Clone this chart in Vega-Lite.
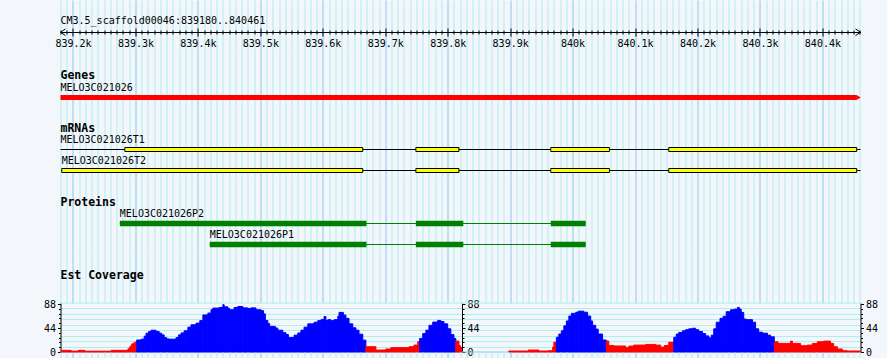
{
"$schema": "https://vega.github.io/schema/vega-lite/v6.json",
"background": "#F3F6FA",
"padding": {"left": 42.5, "top": 0, "right": 8, "bottom": 0},
"spacing": 0,
"bounds": "flush",
"config": {"view": {"stroke": null}, "font": "DejaVu Sans Mono",
  "axis": {"labelFont": "DejaVu Sans Mono", "labelFontSize": 10, "labelColor": "#000000", "tickColor": "#000000", "domainColor": "#000000"}},
"resolve": {"scale": {"x": "independent", "y": "independent"}},
"vconcat": [
{
 "width": 800, "height": 48,
 "layer": [
  {"data": {"values": [{"row": 0, "start": 839180, "label": "CM3.5_scaffold00046:839180..840461"}]},
   "mark": {"type": "text", "align": "left", "baseline": "middle", "font": "DejaVu Sans Mono", "fontSize": 10, "color": "#000000"},
   "encoding": {
    "x": {"field": "start", "type": "quantitative", "scale": {"domain": [839180, 840461], "nice": false, "zero": false, "padding": 0},
      "axis": {"orient": "bottom", "offset": -16, "tickCount": 128, "grid": true,
        "gridColor": {"condition": {"test": "datum.value % 100 === 0", "value": "#88C8EE"}, "value": "#AEEEEE"}, "gridOpacity": 1, "gridWidth": 1,
        "ticks": true, "tickColor": "#000000", "tickWidth": 1,
        "tickSize": {"condition": {"test": "datum.value % 100 === 0", "value": 4}, "value": 2},
        "domain": false, "labels": true,
        "labelExpr": "datum.value % 100 === 0 ? (datum.value / 1000) + 'k' : ''",
        "labelPadding": 2, "labelOverlap": false, "labelFlush": false, "labelBound": false, "title": null}},
    "y": {"field": "row", "type": "quantitative", "scale": {"domain": [-1, 1.2326], "reverse": true, "nice": false, "zero": false, "padding": 0}, "axis": null},
    "text": {"field": "label"}}},
  {"data": {"values": [{"row": 0.5, "start": 839180, "dir": "left"}, {"row": 0.5, "start": 840461, "dir": "right"}]},
   "mark": {"type": "point", "filled": false, "size": 44, "strokeWidth": 1, "opacity": 1, "color": "#000000"},
   "encoding": {
    "x": {"field": "start", "type": "quantitative", "scale": {"domain": [839180, 840461], "nice": false, "zero": false, "padding": 0},
      "axis": {"orient": "bottom", "offset": -16, "tickCount": 128, "grid": false, "ticks": true, "tickColor": "#000000", "tickWidth": 1,
        "tickSize": {"condition": {"test": "datum.value % 100 === 0", "value": -4}, "value": -2},
        "domain": true, "domainColor": "#000000", "labels": false, "title": null}},
    "y": {"field": "row", "type": "quantitative", "scale": {"domain": [-1, 1.2326], "reverse": true, "nice": false, "zero": false, "padding": 0}, "axis": null},
    "shape": {"field": "dir", "type": "nominal", "scale": {"domain": ["left", "right"], "range": ["M 1.5 -1 L 0 0 L 1.5 1", "M -1.5 -1 L 0 0 L -1.5 1"]}, "legend": null}}}
 ],
 "resolve": {"axis": {"x": "independent"}}
},
{
 "width": 800, "height": 56,
 "encoding": {
  "x": {"field": "start", "type": "quantitative", "scale": {"domain": [839180, 840461], "nice": false, "zero": false, "padding": 0},
    "axis": {"orient": "bottom", "tickCount": 128, "grid": true, "gridColor": {"condition": {"test": "datum.value % 100 === 0", "value": "#88C8EE"}, "value": "#AEEEEE"}, "gridOpacity": 1, "gridWidth": 1, "ticks": false, "labels": false, "domain": false, "title": null}},
  "y": {"field": "row", "type": "quantitative", "scale": {"domain": [-1.302, 1.302], "reverse": true, "nice": false, "zero": false, "padding": 0}, "axis": null}
 },
 "layer": [
  {"data": {"values": [{"row": 0, "start": 839180, "label": "Genes"}]},
   "mark": {"type": "text", "align": "left", "baseline": "middle", "font": "DejaVu Sans Mono", "fontWeight": "bold", "fontSize": 11.5, "color": "#000000"},
   "encoding": {"text": {"field": "label"}}},
  {"data": {"values": [{"name": "MELO3C021026", "row": 1, "start": 839180, "end": 840455}]},
   "mark": {"type": "bar", "orient": "horizontal", "height": 5, "color": "#FF0000"},
   "encoding": {"x2": {"field": "end"}}},
  {"data": {"values": [{"name": "MELO3C021026", "row": 1, "start": 839180, "end": 840455}]},
   "mark": {"type": "text", "align": "left", "baseline": "middle", "dy": -9.5, "font": "DejaVu Sans Mono", "fontSize": 10, "color": "#000000"},
   "encoding": {"text": {"field": "name"}}},
  {"data": {"values": [{"row": 1, "start": 840458}]},
   "mark": {"type": "point", "shape": "triangle-right", "size": 25, "filled": true, "opacity": 1, "color": "#FF0000"}}
 ]
},
{
 "width": 800, "height": 72,
 "encoding": {
  "x": {"field": "start", "type": "quantitative", "scale": {"domain": [839180, 840461], "nice": false, "zero": false, "padding": 0},
    "axis": {"orient": "bottom", "tickCount": 128, "grid": true, "gridColor": {"condition": {"test": "datum.value % 100 === 0", "value": "#88C8EE"}, "value": "#AEEEEE"}, "gridOpacity": 1, "gridWidth": 1, "ticks": false, "labels": false, "domain": false, "title": null}},
  "y": {"field": "row", "type": "quantitative", "scale": {"domain": [-1.1667, 2.2619], "reverse": true, "nice": false, "zero": false, "padding": 0}, "axis": null}
 },
 "layer": [
  {"data": {"values": [{"row": 0, "start": 839180, "label": "mRNAs"}]},
   "mark": {"type": "text", "align": "left", "baseline": "middle", "font": "DejaVu Sans Mono", "fontWeight": "bold", "fontSize": 11.5, "color": "#000000"},
   "encoding": {"text": {"field": "label"}}},
  {"data": {"values": [
     {"name": "MELO3C021026T1", "row": 1, "start": 839180, "end": 840461},
     {"name": "MELO3C021026T2", "row": 2, "start": 839182, "end": 840461}]},
   "mark": {"type": "rule", "color": "#000000", "strokeWidth": 1},
   "encoding": {"x2": {"field": "end"}}},
  {"data": {"values": [
     {"name": "MELO3C021026T1", "row": 1, "start": 839180, "end": 840461},
     {"name": "MELO3C021026T2", "row": 2, "start": 839182, "end": 840461}]},
   "mark": {"type": "text", "align": "left", "baseline": "middle", "dy": -9.5, "font": "DejaVu Sans Mono", "fontSize": 10, "color": "#000000"},
   "encoding": {"text": {"field": "name"}}},
  {"data": {"values": [
     {"row": 1, "start": 839283, "end": 839664},
     {"row": 1, "start": 839749, "end": 839818},
     {"row": 1, "start": 839965, "end": 840059},
     {"row": 1, "start": 840154, "end": 840455},
     {"row": 2, "start": 839182, "end": 839664},
     {"row": 2, "start": 839749, "end": 839818},
     {"row": 2, "start": 839965, "end": 840059},
     {"row": 2, "start": 840154, "end": 840455}]},
   "mark": {"type": "bar", "orient": "horizontal", "height": 4, "fill": "#FFFF00", "stroke": "#000000", "strokeWidth": 1},
   "encoding": {"x2": {"field": "end"}}}
 ]
},
{
 "width": 800, "height": 76,
 "encoding": {
  "x": {"field": "start", "type": "quantitative", "scale": {"domain": [839180, 840461], "nice": false, "zero": false, "padding": 0},
    "axis": {"orient": "bottom", "tickCount": 128, "grid": true, "gridColor": {"condition": {"test": "datum.value % 100 === 0", "value": "#88C8EE"}, "value": "#AEEEEE"}, "gridOpacity": 1, "gridWidth": 1, "ticks": false, "labels": false, "domain": false, "title": null}},
  "y": {"field": "row", "type": "quantitative", "scale": {"domain": [-1.2619, 2.3571], "reverse": true, "nice": false, "zero": false, "padding": 0}, "axis": null}
 },
 "layer": [
  {"data": {"values": [{"row": 0, "start": 839180, "label": "Proteins"}]},
   "mark": {"type": "text", "align": "left", "baseline": "middle", "font": "DejaVu Sans Mono", "fontWeight": "bold", "fontSize": 11.5, "color": "#000000"},
   "encoding": {"text": {"field": "label"}}},
  {"data": {"values": [
     {"name": "MELO3C021026P2", "row": 1, "start": 839275, "end": 840021},
     {"name": "MELO3C021026P1", "row": 2, "start": 839419, "end": 840021}]},
   "mark": {"type": "rule", "color": "#008000", "strokeWidth": 1},
   "encoding": {"x2": {"field": "end"}}},
  {"data": {"values": [
     {"name": "MELO3C021026P2", "row": 1, "start": 839275, "end": 840021},
     {"name": "MELO3C021026P1", "row": 2, "start": 839419, "end": 840021}]},
   "mark": {"type": "text", "align": "left", "baseline": "middle", "dy": -9.5, "font": "DejaVu Sans Mono", "fontSize": 10, "color": "#000000"},
   "encoding": {"text": {"field": "name"}}},
  {"data": {"values": [
     {"row": 1, "start": 839275, "end": 839670},
     {"row": 1, "start": 839749, "end": 839825},
     {"row": 1, "start": 839965, "end": 840021},
     {"row": 2, "start": 839419, "end": 839670},
     {"row": 2, "start": 839749, "end": 839825},
     {"row": 2, "start": 839965, "end": 840021}]},
   "mark": {"type": "bar", "orient": "horizontal", "height": 5.5, "color": "#008000"},
   "encoding": {"x2": {"field": "end"}}}
 ]
},
{
 "width": 800, "height": 51,
 "layer": [
  {"data": {"values": [{"row": 0, "start": 839180, "label": "Est Coverage"}]},
   "mark": {"type": "text", "align": "left", "baseline": "middle", "font": "DejaVu Sans Mono", "fontWeight": "bold", "fontSize": 11.5, "color": "#000000"},
   "encoding": {
    "x": {"field": "start", "type": "quantitative", "scale": {"domain": [839180, 840461], "nice": false, "zero": false, "padding": 0},
      "axis": {"orient": "bottom", "tickCount": 128, "grid": true, "gridColor": {"condition": {"test": "datum.value % 100 === 0", "value": "#88C8EE"}, "value": "#AEEEEE"}, "gridOpacity": 1, "gridWidth": 1, "ticks": false, "labels": false, "domain": false, "title": null}},
    "y": {"field": "row", "type": "quantitative", "scale": {"domain": [-1.116, 1.256], "reverse": true, "nice": false, "zero": false, "padding": 0}, "axis": null},
    "text": {"field": "label"}}}
 ]
},
{
 "width": 800, "height": 49,
 "layer": [
  {"data": {"values": [{"g": 0}]},
   "mark": {"type": "rule", "color": "#88C8EE", "strokeWidth": 1},
   "encoding": {"y": {"field": "g", "type": "quantitative", "scale": {"domain": [0, 90], "nice": false, "zero": true, "padding": 0},
     "axis": {"orient": "right", "values": [0, 8.8, 17.6, 26.4, 35.2, 44, 52.8, 61.6, 70.4, 79.2, 88],
       "tickSize": {"condition": {"test": "datum.value % 44 === 0", "value": 3}, "value": 2}, "tickColor": "#000000",
       "domain": true, "domainColor": "#000000", "labelExpr": "datum.value % 44 === 0 ? datum.label : ''",
       "labelPadding": 2, "labelOverlap": false, "labelBound": false, "labelFlush": false, "grid": false, "title": null}}}},
  {"data": {"values": [{"g": 90}]},
   "mark": {"type": "rule", "color": "#AEEEEE", "strokeWidth": 1},
   "encoding": {"y": {"field": "g", "type": "quantitative", "scale": {"domain": [0, 90], "nice": false, "zero": true, "padding": 0},
     "axis": {"orient": "left", "values": [10, 20, 30, 40, 50, 60, 70, 80], "grid": true, "gridColor": "#AEEEEE", "gridOpacity": 1, "ticks": false, "labels": false, "domain": false, "title": null}}}},
  {"data": {"values": [
{"s":839181,"e":839197,"v":3},{"s":839197,"e":839208,"v":1.5},{"s":839208,"e":839219,"v":3},{"s":839219,"e":839261,"v":1.5},
{"s":839261,"e":839288,"v":3},{"s":839288,"e":839291,"v":6},{"s":839291,"e":839294,"v":10.5},{"s":839294,"e":839298,"v":15},
{"s":839298,"e":839302,"v":18},{"s":839302,"e":839309,"v":22},{"s":839309,"e":839314,"v":23.6},{"s":839314,"e":839317,"v":29},
{"s":839317,"e":839321,"v":34.5},{"s":839321,"e":839325,"v":37.6},{"s":839325,"e":839333,"v":40},{"s":839333,"e":839338,"v":37.6},
{"s":839338,"e":839342,"v":34.5},{"s":839342,"e":839346,"v":31.4},{"s":839346,"e":839350,"v":26.5},{"s":839350,"e":839354,"v":24},
{"s":839354,"e":839365,"v":23.6},{"s":839365,"e":839369,"v":26.5},{"s":839369,"e":839373,"v":31.4},{"s":839373,"e":839378,"v":35},
{"s":839378,"e":839384,"v":39},{"s":839384,"e":839389,"v":45.6},{"s":839389,"e":839397,"v":50},{"s":839397,"e":839403,"v":53},
{"s":839403,"e":839408,"v":57.6},{"s":839408,"e":839416,"v":68},{"s":839416,"e":839421,"v":71.5},{"s":839421,"e":839424,"v":77.6},
{"s":839424,"e":839434,"v":80.6},{"s":839434,"e":839440,"v":81.8},{"s":839440,"e":839442,"v":87},{"s":839442,"e":839448,"v":83},
{"s":839448,"e":839451,"v":80},{"s":839451,"e":839458,"v":77.6},{"s":839458,"e":839464,"v":81.8},{"s":839464,"e":839472,"v":83.6},
{"s":839472,"e":839480,"v":81},{"s":839480,"e":839485,"v":80},{"s":839485,"e":839493,"v":81},{"s":839493,"e":839501,"v":77.6},
{"s":839501,"e":839505,"v":76},{"s":839505,"e":839508,"v":70},{"s":839508,"e":839512,"v":58},{"s":839512,"e":839515,"v":52},
{"s":839515,"e":839524,"v":47},{"s":839524,"e":839528,"v":44},{"s":839528,"e":839536,"v":40},{"s":839536,"e":839541,"v":35.5},
{"s":839541,"e":839545,"v":32},{"s":839545,"e":839554,"v":26.6},{"s":839554,"e":839560,"v":30.9},{"s":839560,"e":839565,"v":35},
{"s":839565,"e":839570,"v":40},{"s":839570,"e":839576,"v":45.6},{"s":839576,"e":839586,"v":51.7},{"s":839586,"e":839592,"v":54.7},
{"s":839592,"e":839597,"v":57.6},{"s":839597,"e":839602,"v":59.4},{"s":839602,"e":839605,"v":65},{"s":839605,"e":839608,"v":57.6},
{"s":839608,"e":839613,"v":59.4},{"s":839613,"e":839618,"v":57.6},{"s":839618,"e":839624,"v":59.4},{"s":839624,"e":839626,"v":65.6},
{"s":839626,"e":839633,"v":72.7},{"s":839633,"e":839637,"v":67.9},{"s":839637,"e":839642,"v":61.8},{"s":839642,"e":839648,"v":51.7},
{"s":839648,"e":839653,"v":44.5},{"s":839653,"e":839658,"v":40},{"s":839658,"e":839664,"v":32.7},{"s":839664,"e":839669,"v":21.8},
{"s":839669,"e":839685,"v":9.7},{"s":839685,"e":839701,"v":3.6},{"s":839701,"e":839709,"v":5.5},{"s":839709,"e":839738,"v":8},
{"s":839738,"e":839746,"v":9.7},{"s":839746,"e":839752,"v":12.7},{"s":839752,"e":839755,"v":18.8},{"s":839755,"e":839760,"v":24.8},
{"s":839760,"e":839765,"v":33.9},{"s":839765,"e":839770,"v":40},{"s":839770,"e":839776,"v":49},{"s":839776,"e":839784,"v":55},
{"s":839784,"e":839789,"v":58},{"s":839789,"e":839794,"v":56},{"s":839794,"e":839800,"v":51.7},{"s":839800,"e":839805,"v":42.6},
{"s":839805,"e":839810,"v":31.8},{"s":839810,"e":839813,"v":24.8},{"s":839813,"e":839818,"v":20},{"s":839818,"e":839820,"v":12},
{"s":839820,"e":839822,"v":9}]},
   "mark": {"type": "rect", "strokeWidth": 1, "opacity": 1},
   "encoding": {
    "x": {"field": "s", "type": "quantitative", "scale": {"domain": [839180, 840461], "nice": false, "zero": false, "padding": 0},
      "axis": {"orient": "bottom", "tickCount": 128, "grid": true, "gridColor": {"condition": {"test": "datum.value % 100 === 0", "value": "#88C8EE"}, "value": "#AEEEEE"}, "gridOpacity": 1, "gridWidth": 1, "ticks": false, "labels": false, "domain": false, "title": null}},
    "x2": {"field": "e"},
    "y": {"field": "v", "type": "quantitative", "scale": {"domain": [0, 90], "nice": false, "zero": true, "padding": 0},
      "axis": {"orient": "left", "values": [0, 8.8, 17.6, 26.4, 35.2, 44, 52.8, 61.6, 70.4, 79.2, 88],
       "tickSize": {"condition": {"test": "datum.value % 44 === 0", "value": 3}, "value": 2}, "tickColor": "#000000",
       "domain": true, "domainColor": "#000000", "labelExpr": "datum.value % 44 === 0 ? datum.label : ''",
       "labelPadding": 2, "labelOverlap": false, "labelBound": false, "labelFlush": false, "grid": false, "title": null}},
    "y2": {"datum": 0},
    "fill": {"condition": {"test": "datum.v >= 21", "value": "#0000FF"}, "value": "#FF0000"},
    "stroke": {"condition": {"test": "datum.v >= 21", "value": "#0000FF"}, "value": "#FF0000"}}},
  {"data": {"values": [
{"s":839898,"e":839929,"v":1.8},{"s":839929,"e":839946,"v":3.6},{"s":839946,"e":839961,"v":1.8},{"s":839961,"e":839968,"v":2.4},
{"s":839968,"e":839970,"v":9},{"s":839970,"e":839974,"v":18},{"s":839974,"e":839978,"v":27},{"s":839978,"e":839982,"v":33},
{"s":839982,"e":839986,"v":39},{"s":839986,"e":839990,"v":48},{"s":839990,"e":839994,"v":57},{"s":839994,"e":839998,"v":66},
{"s":839998,"e":840005,"v":71},{"s":840005,"e":840009,"v":73},{"s":840009,"e":840018,"v":75},{"s":840018,"e":840024,"v":73},
{"s":840024,"e":840029,"v":66},{"s":840029,"e":840032,"v":57},{"s":840032,"e":840037,"v":49},{"s":840037,"e":840041,"v":42},
{"s":840041,"e":840048,"v":33},{"s":840048,"e":840054,"v":22},{"s":840054,"e":840058,"v":20},{"s":840058,"e":840066,"v":12},
{"s":840066,"e":840085,"v":11},{"s":840085,"e":840090,"v":8},{"s":840090,"e":840098,"v":10.9},{"s":840098,"e":840117,"v":12.7},
{"s":840117,"e":840133,"v":13.9},{"s":840133,"e":840141,"v":12.7},{"s":840141,"e":840147,"v":9},{"s":840147,"e":840154,"v":12},
{"s":840154,"e":840162,"v":18},{"s":840162,"e":840166,"v":27},{"s":840166,"e":840170,"v":33},{"s":840170,"e":840176,"v":36},
{"s":840176,"e":840181,"v":39},{"s":840181,"e":840186,"v":41},{"s":840186,"e":840192,"v":42.6},{"s":840192,"e":840197,"v":43.6},
{"s":840197,"e":840202,"v":41},{"s":840202,"e":840208,"v":37.6},{"s":840208,"e":840213,"v":33.9},{"s":840213,"e":840218,"v":29.6},
{"s":840218,"e":840222,"v":26},{"s":840222,"e":840226,"v":30.9},{"s":840226,"e":840230,"v":42.6},{"s":840230,"e":840236,"v":54.7},
{"s":840236,"e":840241,"v":61.8},{"s":840241,"e":840246,"v":65.6},{"s":840246,"e":840253,"v":74},{"s":840253,"e":840259,"v":77.6},
{"s":840259,"e":840264,"v":78.8},{"s":840264,"e":840267,"v":81.8},{"s":840267,"e":840270,"v":78.8},{"s":840270,"e":840274,"v":72.7},
{"s":840274,"e":840278,"v":60.6},{"s":840278,"e":840288,"v":59.4},{"s":840288,"e":840293,"v":54.7},{"s":840293,"e":840298,"v":42.6},
{"s":840298,"e":840304,"v":36.4},{"s":840304,"e":840312,"v":34.6},{"s":840312,"e":840317,"v":30.9},{"s":840317,"e":840323,"v":27.9},
{"s":840323,"e":840329,"v":18.8},{"s":840329,"e":840349,"v":15.8},{"s":840349,"e":840352,"v":20},{"s":840352,"e":840365,"v":15.8},
{"s":840365,"e":840376,"v":11.5},{"s":840376,"e":840384,"v":12.7},{"s":840384,"e":840392,"v":15.8},{"s":840392,"e":840402,"v":18.8},
{"s":840402,"e":840413,"v":20},{"s":840413,"e":840418,"v":15.8},{"s":840418,"e":840424,"v":9.7},{"s":840424,"e":840432,"v":5.5},
{"s":840432,"e":840440,"v":2.4},{"s":840440,"e":840461,"v":1.8}]},
   "mark": {"type": "rect", "strokeWidth": 1, "opacity": 1},
   "encoding": {
    "x": {"field": "s", "type": "quantitative", "scale": {"domain": [839180, 840461], "nice": false, "zero": false, "padding": 0}, "axis": null},
    "x2": {"field": "e"},
    "y": {"field": "v", "type": "quantitative", "scale": {"domain": [0, 90], "nice": false, "zero": true, "padding": 0},
      "axis": {"orient": "right", "offset": -398.5, "values": [0, 8.8, 17.6, 26.4, 35.2, 44, 52.8, 61.6, 70.4, 79.2, 88],
       "tickSize": {"condition": {"test": "datum.value % 44 === 0", "value": 3}, "value": 2}, "tickColor": "#000000",
       "domain": true, "domainColor": "#000000", "labelExpr": "datum.value % 44 === 0 ? datum.label : ''",
       "labelPadding": 2, "labelOverlap": false, "labelBound": false, "labelFlush": false, "grid": false, "title": null}},
    "y2": {"datum": 0},
    "fill": {"condition": {"test": "datum.v >= 21", "value": "#0000FF"}, "value": "#FF0000"},
    "stroke": {"condition": {"test": "datum.v >= 21", "value": "#0000FF"}, "value": "#FF0000"}}}
 ],
 "resolve": {"axis": {"y": "independent"}}
},
{
 "width": 800, "height": 6,
 "layer": [
  {"data": {"values": [{"start": 839180}]},
   "mark": {"type": "text", "text": ""},
   "encoding": {
    "x": {"field": "start", "type": "quantitative", "scale": {"domain": [839180, 840461], "nice": false, "zero": false, "padding": 0},
      "axis": {"orient": "bottom", "tickCount": 128, "grid": true, "gridColor": {"condition": {"test": "datum.value % 100 === 0", "value": "#88C8EE"}, "value": "#AEEEEE"}, "gridOpacity": 1, "gridWidth": 1, "ticks": false, "labels": false, "domain": false, "title": null}}}}
 ]
}
]
}
